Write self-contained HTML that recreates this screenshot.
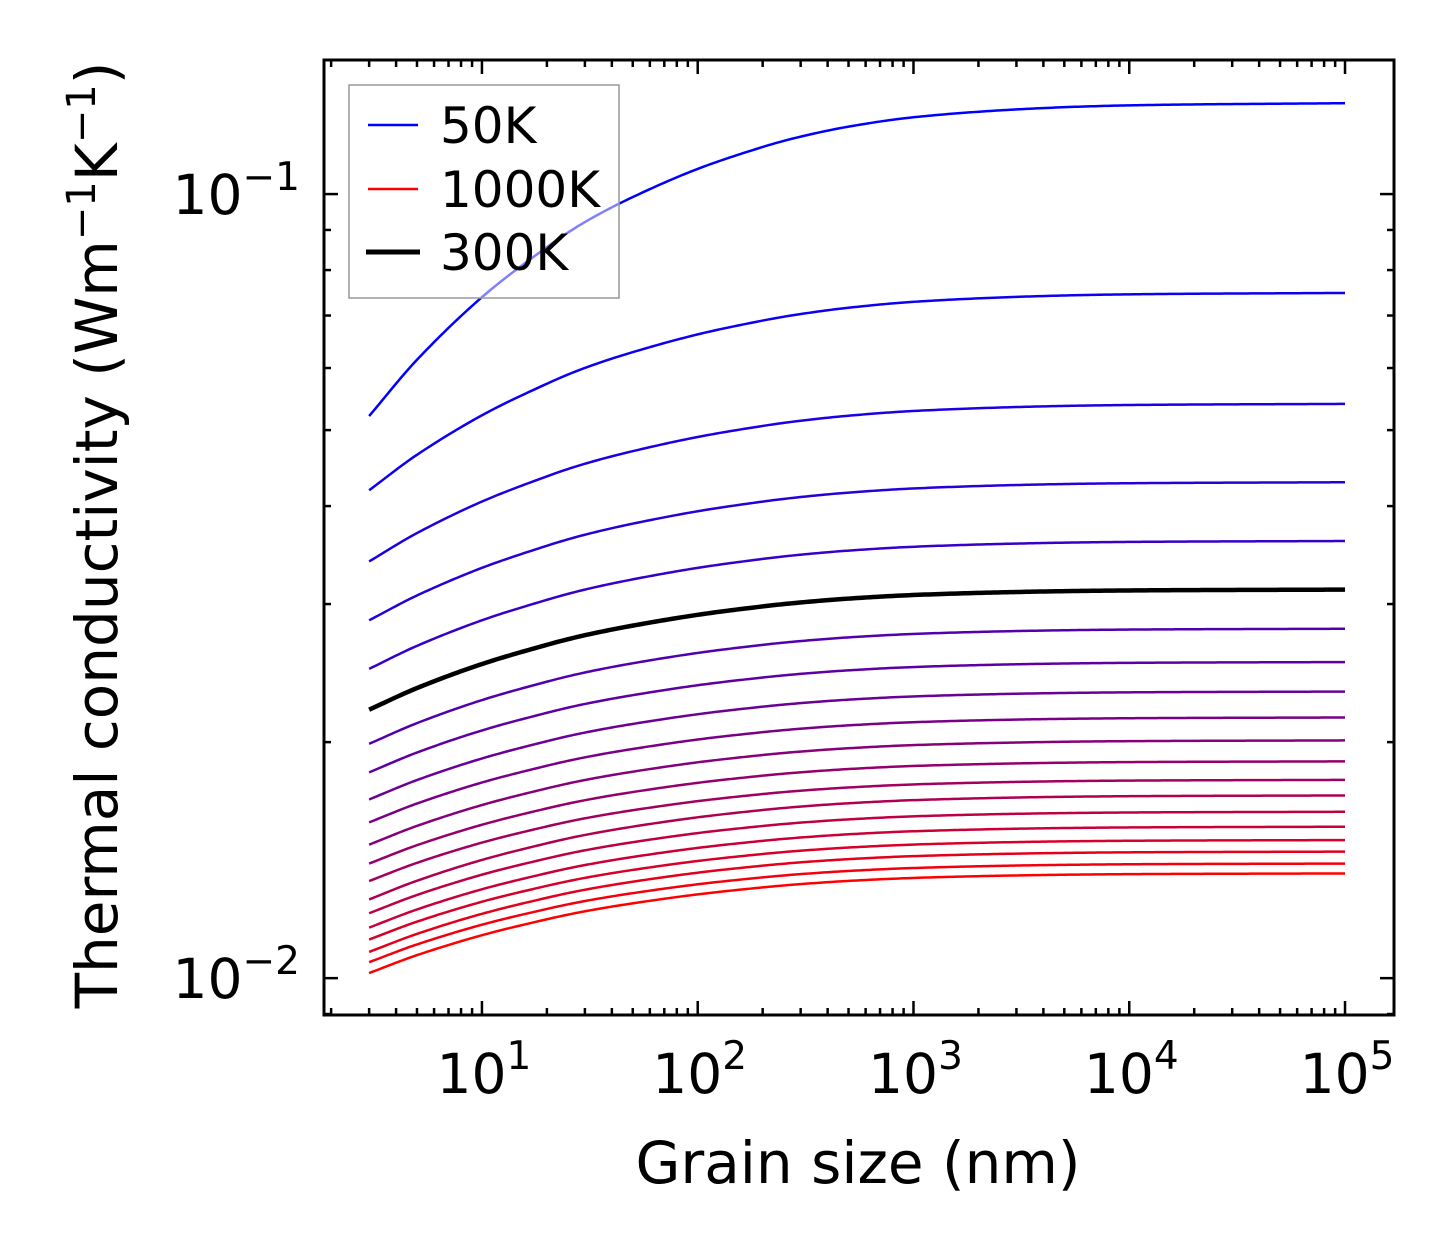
<!DOCTYPE html>
<html><head><meta charset="utf-8"><style>
html,body{margin:0;padding:0;background:#fff;}
svg{display:block;font-family:"DejaVu Sans","Liberation Sans",sans-serif;}
</style></head><body>
<svg id="chart" width="1454" height="1254" viewBox="0 0 1454 1254" xmlns="http://www.w3.org/2000/svg">
<rect x="0" y="0" width="1454" height="1254" fill="#fff"/>
<g id="curves"></g>
<g id="ticks"></g>
<rect x="324" y="60" width="1070" height="955" fill="none" stroke="#000" stroke-width="3"/>
<g id="legend">
  <rect x="349" y="85" width="270" height="213" fill="#fff" fill-opacity="0.5" stroke="#999" stroke-width="1.5"/>
  <line x1="368" y1="125" x2="418" y2="125" stroke="#0000ff" stroke-width="2.5"/>
  <text x="440" y="143" font-size="50">50K</text>
  <line x1="368" y1="189" x2="418" y2="189" stroke="#ff0000" stroke-width="2.5"/>
  <text x="440" y="207" font-size="50">1000K</text>
  <line x1="366" y1="252" x2="420" y2="252" stroke="#000" stroke-width="5"/>
  <text x="440" y="270" font-size="50">300K</text>
</g>
<text x="858" y="1183" font-size="58" text-anchor="middle">Grain size (nm)</text>
<text transform="translate(117,535) rotate(-90)" font-size="58" text-anchor="middle">Thermal conductivity (Wm<tspan dy="-22" font-size="40">−1</tspan><tspan dy="22">K</tspan><tspan dy="-22" font-size="40">−1</tspan><tspan dy="22">)</tspan></text>
</svg>
<script>
const temps = [50,100,150,200,250,300,350,400,450,500,550,600,650,700,750,800,850,900,950,1000];
const kStart = [0.0521,0.0419,0.0340,0.0286,0.0248,0.0220,0.0199,0.0183,0.0169,0.0158,0.0148,0.0140,0.0133,0.0126,0.0121,0.0116,0.0112,0.0108,0.01048,0.01015];
const kPlateau = [0.1306,0.0748,0.0540,0.0429,0.0361,0.0313,0.0279,0.0253,0.0232,0.0215,0.0201,0.0189,0.0179,0.0171,0.0163,0.0156,0.0150,0.0145,0.0140,0.0136];
const grainSizes = [3,5,10,20,30,50,100,200,300,500,1000,3000,10000,100000];
const progress = [0,0.18,0.38,0.54,0.62,0.70,0.79,0.86,0.893,0.925,0.955,0.98,0.993,1.0];
const xTickVals = [1,2,3,4,5];
const yTickVals = [-1,-2];

const NS="http://www.w3.org/2000/svg";
const L=324,R=1394,T=60,B=1015;
const xMin=0.268,xMax=5.227,yMin=-2.047,yMax=-0.829;
const xl=lv=>L+(lv-xMin)/(xMax-xMin)*(R-L);
const yl=lv=>B-(lv-yMin)/(yMax-yMin)*(B-T);
function mk(tag,attrs,parent){const e=document.createElementNS(NS,tag);for(const k in attrs)e.setAttribute(k,attrs[k]);parent.appendChild(e);return e;}

function interp(xsA,ysA,x){
  const n=xsA.length;let i=0;while(i<n-2&&x>xsA[i+1])i++;
  const h=xsA[i+1]-xsA[i],t=(x-xsA[i])/h;
  const d=k=>{ if(k<=0) return (ysA[1]-ysA[0])/(xsA[1]-xsA[0]); if(k>=n-1) return (ysA[n-1]-ysA[n-2])/(xsA[n-1]-xsA[n-2]);
    return (ysA[k+1]-ysA[k-1])/(xsA[k+1]-xsA[k-1]);};
  const m0=d(i)*h,m1=d(i+1)*h,t2=t*t,t3=t2*t;
  return (2*t3-3*t2+1)*ysA[i]+(t3-2*t2+t)*m0+(-2*t3+3*t2)*ysA[i+1]+(t3-t2)*m1;
}
const curves=document.getElementById('curves');
const lgs=grainSizes.map(Math.log10);
const order=temps.map((t,i)=>i).filter(i=>temps[i]!==300).concat(temps.indexOf(300));
order.forEach(i=>{
  const ls=Math.log10(kStart[i]),lp=Math.log10(kPlateau[i]);
  const vals=progress.map(f=>ls+f*(lp-ls));
  let d='';
  for(let s=0;s<=300;s++){
    const lx=lgs[0]+(lgs[lgs.length-1]-lgs[0])*s/300;
    const ly=interp(lgs,vals,lx);
    d+=(s?'L':'M')+xl(lx).toFixed(2)+','+yl(ly).toFixed(2);
  }
  const f=i/(temps.length-1);
  const col=temps[i]===300?'#000':`rgb(${Math.round(255*f)},0,${Math.round(255*(1-f))})`;
  const p=mk('path',{d:d,fill:'none',stroke:col,'stroke-width':temps[i]===300?4.5:2.5},curves);
  
  
});

const tk=document.getElementById('ticks');
for(let dec=0;dec<=5;dec++){
  for(let m=1;m<=9;m++){
    const lv=dec+Math.log10(m);
    if(lv<xMin||lv>xMax) continue;
    const x=xl(lv),len=m===1?14:7;
    mk('line',{x1:x,y1:B,x2:x,y2:B-len,stroke:'#000','stroke-width':2.5},tk);
    mk('line',{x1:x,y1:T,x2:x,y2:T+len,stroke:'#000','stroke-width':2.5},tk);
  }
}
xTickVals.forEach(p=>{
  const x=xl(p);
  const t=mk('text',{x:x+2,y:1093,'font-size':55,'text-anchor':'middle'},tk);
  
  
  t.innerHTML='10<tspan dy="-24" font-size="39">'+p+'</tspan>';
});
for(let dec=-3;dec<=-1;dec++){
  for(let m=1;m<=9;m++){
    const lv=dec+Math.log10(m);
    if(lv<yMin||lv>yMax) continue;
    const y=yl(lv),len=m===1?14:7;
    mk('line',{x1:L,y1:y,x2:L+len,y2:y,stroke:'#000','stroke-width':2.5},tk);
    mk('line',{x1:R,y1:y,x2:R-len,y2:y,stroke:'#000','stroke-width':2.5},tk);
  }
}
yTickVals.forEach(p=>{
  const y=yl(p);
  const t=mk('text',{x:300,y:y+20,'font-size':55,'text-anchor':'end'},tk);
  
  
  t.innerHTML='10<tspan dy="-24" font-size="39">−'+(-p)+'</tspan>';
});
</script>
</body></html>
